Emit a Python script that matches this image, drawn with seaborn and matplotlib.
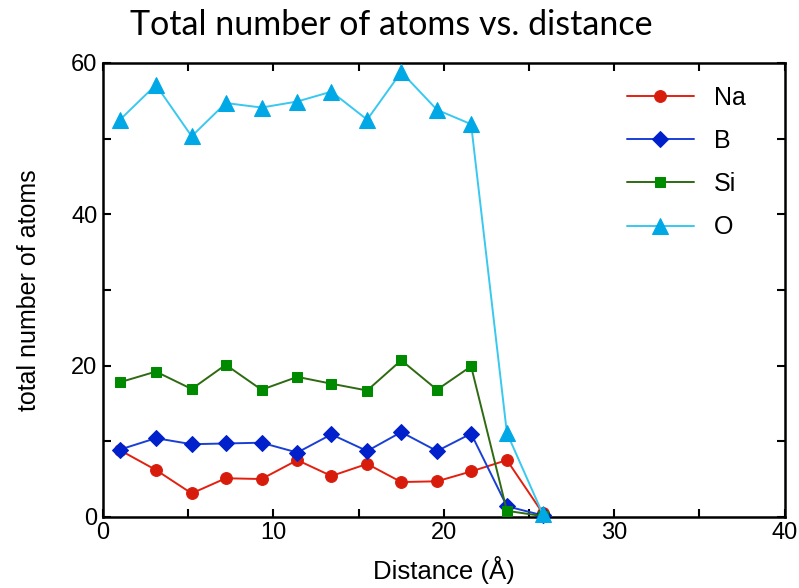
import matplotlib
matplotlib.use("Agg")
import matplotlib.pyplot as plt
import seaborn as sns
import pandas as pd
from matplotlib.ticker import MultipleLocator

distance = [1.0, 3.1, 5.2, 7.2, 9.3, 11.4, 13.4, 15.5, 17.5, 19.6, 21.6, 23.7, 25.8]
na = [8.8, 6.2, 3.1, 5.1, 5.0, 7.5, 5.4, 7.0, 4.6, 4.7, 6.0, 7.5, 0.5]
b = [8.9, 10.4, 9.6, 9.7, 9.8, 8.5, 10.9, 8.7, 11.2, 8.7, 11.0, 1.4, 0.2]
si = [17.8, 19.2, 16.9, 20.1, 16.8, 18.5, 17.6, 16.7, 20.7, 16.8, 19.9, 0.8, 0.1]
o = [52.5, 57.1, 50.3, 54.7, 54.1, 54.9, 56.2, 52.5, 58.8, 53.8, 51.9, 11.1, 0.4]
elements = ["Na", "B", "Si", "O"]

sns.set_style("ticks")
plt.rcParams['font.family'] = ['Liberation Sans', 'DejaVu Sans']
plt.rcParams['text.color'] = 'black'
plt.rcParams['axes.labelcolor'] = 'black'
plt.rcParams['xtick.color'] = 'black'
plt.rcParams['ytick.color'] = 'black'

df = pd.DataFrame({
    "Distance": distance * 4,
    "count": na + b + si + o,
    "element": sum([[e] * len(distance) for e in elements], []),
})

fig = plt.figure(figsize=(7.99, 5.88), dpi=100)
ax = fig.add_axes([0.129, 0.121, 0.853, 0.772])

styles = {
    "Na": dict(color="#e3200f", marker="o", markersize=8.5, mfc="#d81c0c", mec="#d81c0c"),
    "B": dict(color="#1a3fd6", marker="D", markersize=8, mfc="#0020cc", mec="#0020cc"),
    "Si": dict(color="#2e6a12", marker="s", markersize=7.5, mfc="#008a00", mec="#008a00"),
    "O": dict(color="#38c8f0", marker="^", markersize=11.5, mfc="#00a8e6", mec="#00a8e6"),
}
for e in elements:
    st = styles[e]
    sub = df[df["element"] == e]
    sns.lineplot(data=sub, x="Distance", y="count", ax=ax, label=e,
                 color=st["color"], marker=st["marker"], markersize=st["markersize"],
                 markerfacecolor=st["mfc"], markeredgecolor=st["mec"],
                 linewidth=1.4, clip_on=False, zorder=3)

ax.set_xlim(0, 40)
ax.set_ylim(0, 60)
ax.xaxis.set_major_locator(MultipleLocator(10))
ax.xaxis.set_minor_locator(MultipleLocator(5))
ax.yaxis.set_major_locator(MultipleLocator(20))
ax.yaxis.set_minor_locator(MultipleLocator(10))
ax.tick_params(which="both", direction="in", top=True, right=True, width=1.5,
               labelsize=17, length=5.5, pad=4)
for s in ax.spines.values():
    s.set_linewidth(1.8)
    s.set_color("black")

ax.set_xlabel("Distance (Å)", fontsize=18.5, labelpad=8)
ax.set_ylabel("total number of atoms", fontsize=18, labelpad=22)

leg = ax.legend(loc="upper right", bbox_to_anchor=(0.958, 0.972), borderaxespad=0,
                frameon=False, fontsize=18, handlelength=2.7,
                labelspacing=0.77, handletextpad=0.8)

fig.text(0.49, 0.940, "Total number of atoms vs. distance", ha="center", va="baseline",
         fontsize=24.5, family=["Lato", "DejaVu Sans"])

fig.savefig("out.png", dpi=100)
